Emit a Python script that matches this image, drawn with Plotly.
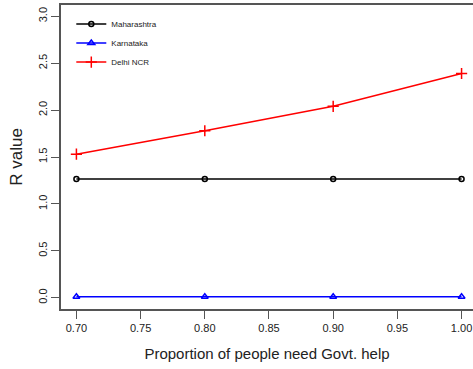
import plotly.graph_objects as go

proportion = [0.70, 0.80, 0.90, 1.00]
maharashtra = [1.265, 1.265, 1.265, 1.265]
karnataka = [0.01, 0.01, 0.01, 0.01]
delhi_ncr = [1.53, 1.78, 2.04, 2.39]

x_ticks = [0.70, 0.75, 0.80, 0.85, 0.90, 0.95, 1.00]
y_ticks = [0.0, 0.5, 1.0, 1.5, 2.0, 2.5, 3.0]

font = "Liberation Sans, Arial, sans-serif"

fig = go.Figure()
fig.add_trace(go.Scatter(x=proportion, y=maharashtra, name="Maharashtra",
                         mode="lines+markers",
                         line=dict(color="black", width=1.5),
                         marker=dict(symbol="circle-open", size=5, color="black",
                                     line=dict(width=1.5))))
fig.add_trace(go.Scatter(x=proportion, y=karnataka, name="Karnataka",
                         mode="lines+markers",
                         line=dict(color="blue", width=1.5),
                         marker=dict(symbol="triangle-up-open", size=6, color="blue",
                                     line=dict(width=1.5))))
fig.add_trace(go.Scatter(x=proportion, y=delhi_ncr, name="Delhi NCR",
                         mode="lines+markers",
                         line=dict(color="red", width=1.5),
                         marker=dict(symbol="cross-thin-open", size=8, color="red",
                                     line=dict(width=1.5, color="red"))))

fig.update_layout(
    width=473, height=369,
    margin=dict(l=61, r=0, t=5, b=60),
    paper_bgcolor="white", plot_bgcolor="white",
    font=dict(family=font, size=11, color="#222"),
    showlegend=True,
    legend=dict(x=0.025, y=0.985, xanchor="left", yanchor="top",
                bgcolor="rgba(0,0,0,0)", font=dict(size=8, color="#222"),
                itemwidth=30, tracegroupgap=5),
    xaxis=dict(range=[0.688, 1.0089], tickvals=x_ticks, tickformat=".2f",
               showgrid=False, zeroline=False, showline=True, mirror=True,
               linecolor="#555", linewidth=1.5,
               ticks="outside", ticklen=8, tickcolor="#555", tickwidth=1,
               tickfont=dict(size=11, color="#222"),
               title=dict(text="Proportion of people need Govt. help",
                          font=dict(size=15, color="#222"), standoff=16)),
    yaxis=dict(range=[-0.12, 3.12], tickvals=y_ticks, tickformat=".1f",
               showgrid=False, zeroline=False, showline=True,
               linecolor="#555", linewidth=1.5,
               ticks="outside", ticklen=8, tickcolor="#555", tickwidth=1,
               tickangle=-90,
               tickfont=dict(size=11, color="#222"),
               title=dict(text="R value", font=dict(size=17, color="#222"),
                          standoff=10)),
)

fig.write_html("out.html")
